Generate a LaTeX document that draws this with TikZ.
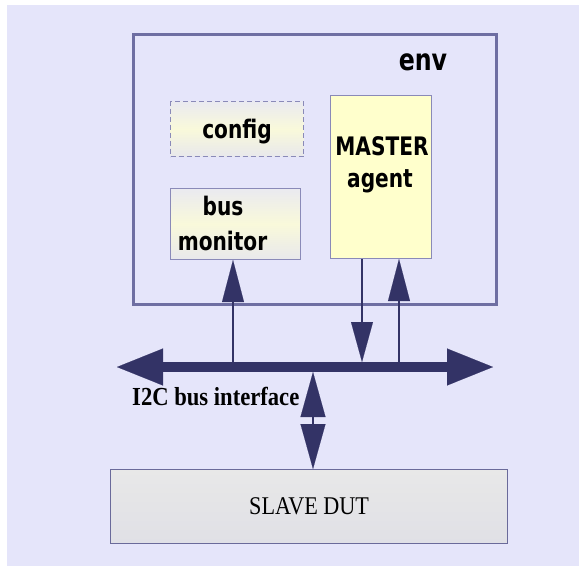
\documentclass[tikz,border=0pt]{standalone}
\usepackage{fontspec}
\usetikzlibrary{arrows.meta}
\newfontfamily\sansb[FakeStretch=0.79]{DejaVu Sans}
\newfontfamily\serifr[FakeStretch=0.87]{Liberation Serif}
\definecolor{bgc}{HTML}{E5E5FA}
\definecolor{envc}{HTML}{6E6EA2}
\definecolor{arrc}{HTML}{333366}
\definecolor{boxc}{HTML}{8A8AB8}
\definecolor{mfill}{HTML}{FFFFCC}
\definecolor{slavec}{HTML}{6A6A9A}
\definecolor{gtop}{HTML}{EAEAF0}
\definecolor{gmid}{HTML}{F9F9DA}
\definecolor{gbot}{HTML}{E8E8EC}
\definecolor{stop}{HTML}{E8E8E8}
\definecolor{sbot}{HTML}{E0E0E6}
\tikzset{
  BusHead/.tip={Triangle[length=46pt,width=37pt,line width=0.1pt]},
  SigHead/.tip={Triangle[length=42pt,width=22pt,line width=0.1pt]},
  DutHead/.tip={Triangle[length=45pt,width=25pt,line width=0.1pt]},
  envbox/.style={draw=envc, line width=3pt, fill=bgc, rectangle, anchor=north west, inner sep=0pt},
  gradbox/.style={draw=boxc, line width=1pt, rectangle, anchor=north west, inner sep=0pt,
    top color=gtop, bottom color=gbot, middle color=gmid},
  masterbox/.style={draw=boxc, line width=1pt, fill=mfill, rectangle, anchor=north west, inner sep=0pt},
  slavebox/.style={draw=slavec, line width=1.2pt, rectangle, anchor=north west, inner sep=0pt,
    top color=stop, bottom color=sbot, font=\serifr\fontsize{25.5}{30}\selectfont},
  lbl/.style={anchor=base, inner sep=0pt, font=\sansb\bfseries\fontsize{25.5}{33}\selectfont},
  buslbl/.style={anchor=base west, inner sep=0pt, font=\serifr\bfseries\fontsize{26}{30}\selectfont},
  bus/.style={draw=arrc, line width=10pt, {BusHead}-{BusHead}},
  sig/.style={draw=arrc, line width=2pt, fill=arrc},
}
\begin{document}
\begin{tikzpicture}[x=1pt,y=-1pt]
\useasboundingbox (0,0) rectangle (579,566);
\fill[bgc] (7,5) rectangle (579,566);
% boxes
\node[envbox, minimum width=363pt, minimum height=270pt] (env) at (132,33) {};
\node[gradbox, dashed, dash pattern=on 5pt off 3pt, minimum width=133pt, minimum height=55pt] (config) at (170,101) {};
\node[gradbox, minimum width=130pt, minimum height=71pt] (mon) at (170,188) {};
\node[masterbox, minimum width=101pt, minimum height=163pt] (master) at (330,95) {};
\node[slavebox, minimum width=397pt, minimum height=74pt] (slave) at (110,469) {SLAVE DUT};
% texts
\node[lbl, font=\sansb\bfseries\fontsize{30}{36}\selectfont] (envt) at (423,70) {env};
\node[lbl] (configt) at (237,138) {config};
\node[lbl] (bust) at (223,215) {bus};
\node[lbl] (mont) at (222.5,250) {monitor};
\node[lbl] (mastt) at (382,155) {MASTER};
\node[lbl] (agentt) at (380,187) {agent};
% bus
\coordinate (busL) at (117,367);
\coordinate (busR) at (493,367);
\draw[bus] (busL) -- (busR);
\node[buslbl] (busname) at (132,405) {I2C bus interface};
% signal connectors
\coordinate (pmon) at (233,362);
\coordinate (pdown) at (362,362);
\coordinate (pup) at (399,362);
\coordinate (pdut) at (313,372);
\draw[sig, -{SigHead}] (pmon) -- (mon.south -| pmon);
\draw[sig, line width=2.5pt, -{Triangle[length=40pt,width=22pt,line width=0.1pt]}] (master.south -| pdown) -- (pdown);
\draw[sig, -{SigHead}] (pup) -- (master.south -| pup);
\draw[sig, {DutHead}-{DutHead}] (pdut) -- (slave.north -| pdut);
\end{tikzpicture}
\end{document}
